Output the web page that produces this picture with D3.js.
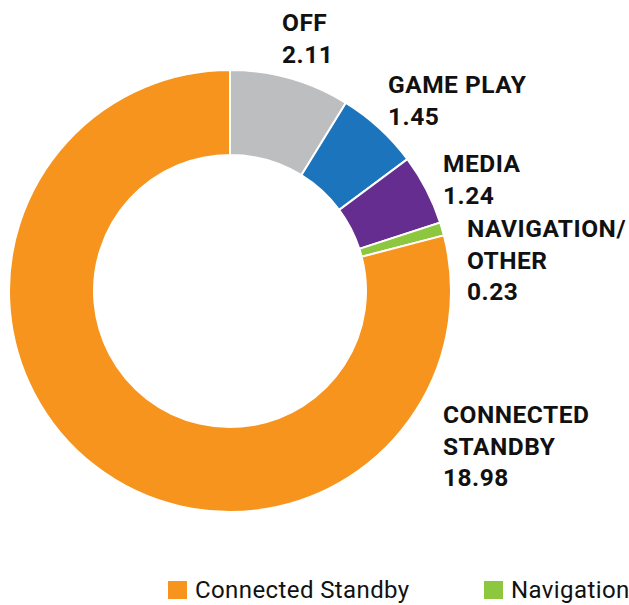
<!DOCTYPE html>
<html>
<head>
<meta charset="utf-8">
<script src="https://cdn.jsdelivr.net/npm/d3@7"></script>
<style>
	body { margin: 0; background: #fff; }
	svg { display: block; }
	.lbl { font-family: Roboto, "DejaVu Sans", sans-serif; font-weight: 700; font-size: 24.5px; fill: #111; letter-spacing: 0.5px; }
	.leg { font-family: Roboto, "DejaVu Sans", sans-serif; font-size: 24px; fill: #111; letter-spacing: 0.4px; }
</style>
</head>
<body>
<svg id="chart" width="629" height="605"></svg>
<script>
	var categories = ["OFF", "GAME PLAY", "MEDIA", "NAVIGATION/ OTHER", "CONNECTED STANDBY"]
	var values = [2.11, 1.45, 1.24, 0.23, 18.98]
	var colors = ["#bcbec0", "#1c75bc", "#662d91", "#8dc63f", "#f7941d"]
	var labelLines = [["OFF"], ["GAME PLAY"], ["MEDIA"], ["NAVIGATION/", "OTHER"], ["CONNECTED", "STANDBY"]]
	var legendNames = ["Connected Standby", "Navigation"]
	var legendColors = ["#f7941d", "#8dc63f"]

	// label anchors (left x, first baseline y)
	var labelPos = [[282, 31], [388, 93], [443, 172], [467, 237], [443, 423]]

	var svg = d3.select("#chart"),
		cx = 230,
		cy = 291,
		outer = 221,
		inner = 136;

	var data = categories.map(function (c, i) {
		return { name: c, value: values[i], color: colors[i], lines: labelLines[i] }
	})

	var pie = d3.pie().sort(null).value(function (d) { return d.value; })
	var arc = d3.arc().innerRadius(inner).outerRadius(outer)

	var g = svg.append("g").attr("transform", "translate(" + cx + "," + cy + ")")

	g.selectAll(".slice")
		.data(pie(data))
		.enter()
		.append("path")
		.attr("class", "slice")
		.attr("d", arc)
		.style("fill", function (d) { return d.data.color; })
		.style("stroke", "#fff")
		.style("stroke-width", 2)

	var lineH = 31.5

	data.forEach(function (d, i) {
		var t = svg.append("text")
			.attr("class", "lbl")
			.attr("x", labelPos[i][0])
			.attr("y", labelPos[i][1])
		var lines = d.lines.concat([d3.format(".2f")(d.value)])
		lines.forEach(function (s, j) {
			t.append("tspan")
				.attr("x", labelPos[i][0])
				.attr("dy", j == 0 ? 0 : lineH)
				.text(s)
		})
	})

	var leg = svg.selectAll(".legend")
		.data(legendNames)
		.enter()
		.append("g")
		.attr("class", "legend")
		.attr("transform", function (d, i) {
			return "translate(" + [168, 484][i] + ",581)";
		})

	leg.append("rect")
		.attr("width", 19)
		.attr("height", 18)
		.style("fill", function (d, i) { return legendColors[i]; })

	leg.append("text")
		.attr("class", "leg")
		.attr("x", 27)
		.attr("y", 17)
		.text(function (d) { return d; })
</script>
</body>
</html>
